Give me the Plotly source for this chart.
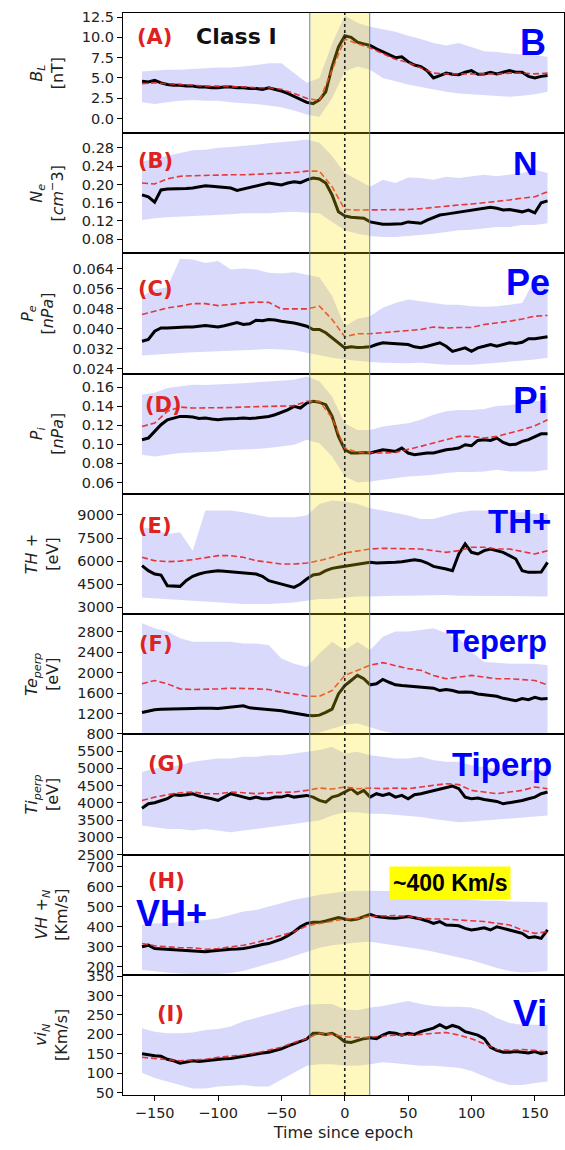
import plotly.graph_objects as go

# ---------------- data ----------------
t_line = list(range(-160, 161, 5))    # black median lines
t_band = list(range(-160, 161, 10))   # red mean lines and shaded bands

# (A) B_L [nT]
black_A = [4.6, 4.5, 4.7, 4.4, 4.2, 4.1, 4.1, 4.0, 4.0, 3.9, 3.9, 3.8, 3.8,
           3.9, 3.9, 3.8, 3.8, 3.7, 3.7, 3.6, 3.8, 3.6, 3.4, 3.1, 2.7, 2.3,
           2.0, 1.85, 2.3, 3.3, 6.4, 8.8, 10.2, 10.0, 9.4, 9.2, 9.0, 8.6, 8.2,
           7.8, 7.5, 7.6, 7.0, 6.6, 6.4, 5.9, 5.0, 5.3, 5.6, 5.45, 5.4, 5.7,
           5.9, 5.45, 5.5, 5.7, 5.5, 5.7, 5.9, 5.7, 5.7, 5.2, 5.0, 5.2, 5.3]
red_A = [4.3, 4.4, 4.3, 4.2, 4.1, 4.0, 4.0, 3.9, 3.9, 3.8, 3.8, 3.6, 3.1, 2.5, 2.2, 6.0, 9.8,
         9.2, 8.7, 8.0, 7.3, 6.9, 6.2, 5.6, 5.5, 5.5, 5.5, 5.5, 5.5, 5.6, 5.6, 5.5, 5.6]
up_A = [5.8, 5.9, 6.0, 6.0, 6.1, 6.2, 6.3, 6.3, 6.4, 6.6, 6.8, 6.8, 5.6, 4.4, 5.0, 9.2, 12.7,
        11.8, 11.3, 11.0, 10.7, 10.2, 9.8, 9.3, 9.0, 9.3, 8.8, 8.3, 8.2, 8.0, 7.9, 7.8, 7.6]
lo_A = [2.0, 1.8, 2.0, 2.2, 2.3, 2.2, 2.2, 2.0, 1.9, 1.8, 1.6, 1.4, 1.0, 0.5, 0.2, 2.5, 5.8,
        6.4, 6.0, 5.0, 4.6, 4.2, 3.9, 3.6, 3.3, 3.1, 3.0, 2.9, 2.8, 2.7, 2.8, 3.0, 3.3]

# (B) N_e [cm^-3]
black_B = [0.177, 0.173, 0.161, 0.188, 0.190, 0.190, 0.190, 0.191, 0.192, 0.194, 0.197, 0.196, 0.195,
           0.194, 0.192, 0.187, 0.190, 0.193, 0.197, 0.200, 0.203, 0.201, 0.199, 0.203, 0.206, 0.204,
           0.210, 0.214, 0.212, 0.203, 0.177, 0.140, 0.131, 0.128, 0.127, 0.126, 0.118, 0.115, 0.113,
           0.113, 0.113, 0.114, 0.118, 0.116, 0.115, 0.122, 0.128, 0.133, 0.135, 0.137, 0.140, 0.142,
           0.144, 0.145, 0.148, 0.150, 0.148, 0.144, 0.145, 0.142, 0.140, 0.144, 0.138, 0.160, 0.164]
red_B = [0.203, 0.201, 0.212, 0.218, 0.219, 0.220, 0.220, 0.221, 0.221, 0.222, 0.223, 0.224, 0.226,
         0.229, 0.229, 0.195, 0.145, 0.144, 0.144, 0.144, 0.144, 0.145, 0.147, 0.150, 0.153, 0.155,
         0.157, 0.160, 0.162, 0.166, 0.170, 0.173, 0.184]
up_B = [0.250, 0.256, 0.262, 0.269, 0.275, 0.276, 0.280, 0.282, 0.284, 0.287, 0.290, 0.292, 0.295,
        0.298, 0.291, 0.262, 0.225, 0.210, 0.195, 0.210, 0.203, 0.215, 0.214, 0.210, 0.217, 0.214,
        0.217, 0.221, 0.218, 0.221, 0.225, 0.232, 0.225]
lo_B = [0.122, 0.126, 0.128, 0.130, 0.131, 0.132, 0.133, 0.135, 0.137, 0.137, 0.137, 0.139, 0.140,
        0.138, 0.137, 0.118, 0.100, 0.092, 0.087, 0.085, 0.085, 0.087, 0.089, 0.092, 0.096, 0.100,
        0.101, 0.104, 0.107, 0.107, 0.111, 0.111, 0.115]

# (C) P_e [nPa]
black_C = [0.0350, 0.0357, 0.0390, 0.0403, 0.0403, 0.0405, 0.0407, 0.0407, 0.0407, 0.0410, 0.0413, 0.0410, 0.0407,
           0.0412, 0.0417, 0.0425, 0.0417, 0.0420, 0.0434, 0.0432, 0.0437, 0.0435, 0.0430, 0.0427, 0.0423, 0.0417,
           0.0410, 0.0397, 0.0397, 0.0384, 0.0364, 0.0344, 0.0324, 0.0328, 0.0325, 0.0326, 0.0328, 0.0337, 0.0344,
           0.0342, 0.0341, 0.0339, 0.0337, 0.0328, 0.0324, 0.0330, 0.0337, 0.0344, 0.0330, 0.0310, 0.0317, 0.0324,
           0.0310, 0.0324, 0.0330, 0.0337, 0.0330, 0.0337, 0.0344, 0.0341, 0.0346, 0.0360, 0.0360, 0.0364, 0.0368]
red_C = [0.0457, 0.0470, 0.0483, 0.0490, 0.0500, 0.0500, 0.0492, 0.0497, 0.0503, 0.0506, 0.0505, 0.0479, 0.0478,
         0.0479, 0.0490, 0.0437, 0.0368, 0.0380, 0.0380, 0.0384, 0.0386, 0.0390, 0.0397, 0.0407, 0.0403, 0.0405,
         0.0405, 0.0417, 0.0423, 0.0430, 0.0439, 0.0450, 0.0453]
up_C = [0.0530, 0.0556, 0.0565, 0.0679, 0.0676, 0.0662, 0.0670, 0.0636, 0.0640, 0.0636, 0.0623, 0.0620, 0.0625,
        0.0616, 0.0605, 0.0530, 0.0410, 0.0440, 0.0450, 0.0484, 0.0503, 0.0516, 0.0510, 0.0505, 0.0496, 0.0496,
        0.0490, 0.0488, 0.0490, 0.0496, 0.0503, 0.0596, 0.0580]
lo_C = [0.0293, 0.0297, 0.0300, 0.0303, 0.0306, 0.0308, 0.0310, 0.0313, 0.0317, 0.0318, 0.0319, 0.0317, 0.0314,
        0.0304, 0.0293, 0.0284, 0.0277, 0.0271, 0.0267, 0.0264, 0.0262, 0.0262, 0.0264, 0.0260, 0.0257, 0.0257,
        0.0257, 0.0260, 0.0264, 0.0267, 0.0271, 0.0277, 0.0284]

# (D) P_i [nPa]
black_D = [0.1048, 0.1065, 0.1135, 0.1205, 0.1257, 0.1275, 0.1292, 0.1290, 0.1285, 0.1270, 0.1275, 0.1265, 0.1257,
           0.1265, 0.1265, 0.1270, 0.1275, 0.1270, 0.1275, 0.1280, 0.1292, 0.1310, 0.1334, 0.1360, 0.1397, 0.1380,
           0.1432, 0.1450, 0.1439, 0.1415, 0.1292, 0.1083, 0.0943, 0.0908, 0.0908, 0.0915, 0.0908, 0.0925, 0.0943,
           0.0935, 0.0925, 0.0960, 0.0908, 0.0890, 0.0900, 0.0908, 0.0908, 0.0925, 0.0943, 0.0950, 0.0960, 0.0995,
           0.0985, 0.1040, 0.1048, 0.1040, 0.1065, 0.1020, 0.0995, 0.1000, 0.1030, 0.1048, 0.1083, 0.1110, 0.1110]
red_D = [0.1187, 0.1222, 0.1345, 0.1390, 0.1380, 0.1380, 0.1380, 0.1385, 0.1390, 0.1395, 0.1397, 0.1400, 0.1404,
         0.1450, 0.1450, 0.1275, 0.0960, 0.0915, 0.0908, 0.0908, 0.0915, 0.0943, 0.0978, 0.1013, 0.1048, 0.1083,
         0.1083, 0.1065, 0.1083, 0.1117, 0.1152, 0.1194, 0.1257]
up_D = [0.152, 0.154, 0.159, 0.161, 0.1625, 0.162, 0.1625, 0.1635, 0.164, 0.165, 0.166, 0.167, 0.1677,
        0.171, 0.166, 0.150, 0.122, 0.115, 0.115, 0.1187, 0.120, 0.122, 0.1257, 0.131, 0.1345, 0.136,
        0.136, 0.137, 0.140, 0.141, 0.1432, 0.145, 0.1467]
lo_D = [0.089, 0.0873, 0.089, 0.0908, 0.0915, 0.092, 0.0925, 0.094, 0.0943, 0.095, 0.096, 0.098, 0.0995,
        0.1048, 0.1010, 0.0873, 0.0663, 0.0600, 0.0610, 0.0628, 0.0645, 0.0663, 0.067, 0.068, 0.0698, 0.071,
        0.071, 0.0715, 0.0733, 0.0715, 0.0715, 0.0715, 0.0733]

# (E) TH+ [eV]
black_E = [5708, 5383, 5166, 5100, 4408, 4365, 4365, 4750, 5015, 5166, 5274, 5330, 5383,
           5350, 5318, 5300, 5274, 5200, 5166, 5015, 4733, 4625, 4517, 4408, 4300, 4517,
           4841, 5100, 5166, 5383, 5534, 5599, 5664, 5708, 5751, 5816, 5924, 5881, 5881,
           5900, 5924, 5967, 6032, 6097, 6032, 5881, 5664, 5599, 5491, 5383, 6466, 7116,
           6574, 6466, 6682, 6790, 6682, 6574, 6357, 6140, 5383, 5274, 5274, 5300, 5924]
red_E = [6249, 6032, 5967, 6000, 6097, 6249, 6357, 6357, 6249, 6032, 5924, 5816, 5816,
         5881, 6032, 6249, 6531, 6682, 6790, 6834, 6834, 6834, 6790, 6682, 6574, 6682,
         6900, 6899, 6790, 6790, 6617, 6466, 6682]
up_E = [8199, 8090, 7765, 7873, 6682, 9281, 9281, 9281, 9173, 9000, 8848, 8848, 8848,
        8957, 9715, 9931, 9866, 9715, 9433, 9281, 9130, 8957, 8740, 8740, 8957, 9173,
        9281, 9281, 9281, 9173, 9173, 9065, 9065]
lo_E = [3650, 3585, 3541, 3487, 3433, 3380, 3325, 3270, 3217, 3217, 3217, 3270, 3325,
        3433, 3541, 3541, 3650, 3715, 3715, 3758, 3758, 3758, 3780, 3801, 3801, 3758,
        3758, 3758, 3740, 3715, 3715, 3715, 3715]

# (F) Te_perp [eV]
black_F = [1220, 1250, 1272, 1280, 1286, 1286, 1286, 1290, 1299, 1300, 1305, 1300, 1299,
           1310, 1319, 1340, 1351, 1310, 1299, 1290, 1286, 1270, 1253, 1230, 1207, 1185,
           1167, 1154, 1167, 1220, 1286, 1582, 1746, 1845, 1944, 1878, 1760, 1779, 1865,
           1810, 1760, 1745, 1733, 1725, 1714, 1700, 1694, 1648, 1667, 1650, 1615, 1620,
           1615, 1582, 1562, 1550, 1536, 1496, 1470, 1450, 1490, 1470, 1516, 1483, 1490]
red_F = [1779, 1845, 1779, 1681, 1667, 1667, 1681, 1694, 1694, 1681, 1667, 1615, 1582,
         1536, 1536, 1648, 1944, 2043, 2142, 2194, 2142, 2076, 2043, 1944, 1878, 1911,
         1944, 1911, 1878, 1878, 1865, 1845, 1760]
up_F = [2965, 2866, 2800, 2668, 2602, 2602, 2615, 2602, 2569, 2569, 2537, 2273, 2174,
        2109, 2372, 2602, 2438, 2602, 2438, 2701, 2800, 2800, 2833, 2866, 2767, 2668,
        2405, 2207, 2190, 2174, 2174, 2174, 2141]
lo_F = [790, 785, 780, 780, 780, 780, 780, 780, 780, 780, 780, 785, 790,
        800, 830, 900, 980, 1010, 930, 850, 810, 790, 785, 780, 780, 780,
        780, 780, 780, 780, 780, 780, 780]

# (G) Ti_perp [eV]
black_G = [3846, 3973, 4002, 4070, 4119, 4235, 4216, 4235, 4265, 4197, 4167, 4119, 4070,
           4167, 4265, 4216, 4167, 4119, 4167, 4119, 4119, 4167, 4167, 4216, 4167, 4197,
           4216, 4167, 4070, 4021, 4167, 4216, 4313, 4411, 4265, 4362, 4167, 4265, 4216,
           4265, 4167, 4216, 4119, 4235, 4265, 4313, 4362, 4411, 4459, 4488, 4411, 4167,
           4119, 4140, 4099, 4070, 4041, 3973, 4002, 4021, 4070, 4119, 4167, 4265, 4313]
red_G = [4070, 4167, 4235, 4294, 4313, 4265, 4265, 4313, 4294, 4265, 4294, 4313, 4313,
         4362, 4430, 4400, 4459, 4411, 4430, 4411, 4430, 4411, 4459, 4488, 4556, 4530,
         4362, 4313, 4265, 4313, 4362, 4459, 4411]
up_G = [4897, 4994, 5043, 5092, 5189, 5238, 5286, 5286, 5335, 5335, 5384, 5384, 5432,
        5481, 5530, 5627, 5432, 5481, 5384, 5335, 5286, 5286, 5335, 5238, 5189, 5189,
        5092, 5043, 4994, 4994, 4945, 4945, 4945]
lo_G = [3340, 3292, 3243, 3243, 3195, 3243, 3195, 3146, 3195, 3243, 3292, 3340, 3389,
        3437, 3486, 3632, 3730, 3730, 3681, 3681, 3652, 3613, 3590, 3535, 3486, 3437,
        3457, 3486, 3515, 3535, 3584, 3613, 3632]

# (H) VH+_N [Km/s]
black_H = [301, 309, 292, 290, 289, 287, 284, 282, 279, 277, 276, 280, 284,
           286, 289, 290, 292, 298, 306, 312, 317, 328, 339, 356, 376, 401,
           418, 423, 423, 430, 440, 447, 440, 435, 440, 452, 463, 452, 447,
           445, 443, 448, 452, 446, 440, 430, 418, 427, 410, 408, 406, 393,
           385, 390, 396, 385, 401, 393, 385, 376, 368, 346, 351, 343, 385]
red_H = [317, 306, 301, 296, 296, 289, 292, 301, 309, 322, 339, 356, 376,
         406, 418, 427, 440, 443, 452, 455, 457, 452, 443, 440, 440, 435,
         430, 427, 418, 410, 385, 368, 376]
up_H = [410, 418, 418, 423, 427, 435, 443, 460, 477, 485, 502, 519, 536,
        547, 561, 569, 578, 581, 581, 581, 578, 578, 578, 569, 561, 547,
        536, 531, 531, 527, 527, 527, 524]
lo_H = [185, 178, 172, 168, 165, 163, 165, 170, 180, 200, 217, 234, 255,
        276, 296, 309, 317, 322, 326, 317, 309, 301, 289, 276, 262, 250,
        234, 215, 195, 180, 172, 175, 180]

# (I) vi_N [Km/s]
black_I = [150, 147, 145, 144, 136, 132, 126, 129, 132, 130, 132, 134, 136,
           137, 138, 141, 144, 147, 150, 152, 154, 158, 163, 170, 176, 181,
           188, 203, 203, 200, 203, 194, 181, 179, 185, 189, 191, 189, 198,
           205, 203, 198, 203, 200, 207, 211, 216, 225, 216, 223, 218, 207,
           203, 198, 189, 167, 159, 154, 154, 156, 154, 152, 156, 150, 154]
red_I = [141, 138, 135, 132, 134, 136, 141, 144, 147, 152, 159, 167, 179,
         189, 203, 200, 194, 192, 192, 196, 198, 198, 200, 203, 205, 198,
         189, 176, 161, 159, 161, 159, 154]
up_I = [216, 207, 203, 203, 205, 211, 214, 220, 234, 242, 251, 260, 269,
        276, 278, 278, 264, 262, 269, 273, 279, 286, 278, 273, 271, 271,
        269, 260, 242, 229, 225, 225, 225]
lo_I = [101, 88, 79, 70, 61, 61, 66, 68, 70, 66, 66, 84, 101,
        119, 123, 123, 119, 119, 123, 128, 126, 123, 119, 119, 117, 114,
        106, 92, 79, 70, 70, 75, 79]

x_ticks = [-150, -100, -50, 0, 50, 100, 150]
span_start, span_end = -27.6, 19.7

# ---------------- figure ----------------
W, H = 565, 1150
L, R, T, B = 123, 1, 13, 55
PW, PH = W - L - R, H - T - B

BAND = "rgba(105,105,240,0.25)"
RED = "rgba(232,35,35,0.9)"
TICKFONT = dict(family="DejaVu Sans", size=14.5, color="#222222")
TITLEFONT = dict(family="DejaVu Sans", size=16, color="#222222")

panels = [
    (black_A, red_A, up_A, lo_A, [-1.8, 13.0], 0, 2.5, ".1f", "<i>B<sub>L</sub></i><br>[nT]"),
    (black_B, red_B, up_B, lo_B, [0.049, 0.312], 0.08, 0.04, ".2f", "<i>N<sub>e</sub></i><br>[<i>cm</i><sup>−</sup>3]"),
    (black_C, red_C, up_C, lo_C, [0.0221, 0.070], 0.024, 0.008, ".3f", "<i>P<sub>e</sub></i><br>[<i>nPa</i>]"),
    (black_D, red_D, up_D, lo_D, [0.048, 0.174], 0.06, 0.02, ".2f", "<i>P<sub>i</sub></i><br>[<i>nPa</i>]"),
    (black_E, red_E, up_E, lo_E, [2565, 10365], 3000, 1500, "d", "<i>TH</i> +<br>[eV]"),
    (black_F, red_F, up_F, lo_F, [792, 3142], 800, 400, "d", "<i>Te<sub>perp</sub></i><br>[eV]"),
    (black_G, red_G, up_G, lo_G, [2500, 5988], 2500, 500, "d", "<i>Ti<sub>perp</sub></i><br>[eV]"),
    (black_H, red_H, up_H, lo_H, [161, 762], 200, 100, "d", "<i>VH</i> +<sub><i>N</i></sub><br>[Km/s]"),
    (black_I, red_I, up_I, lo_I, [44, 353.4], 50, 50, "d", "<i>vi<sub>N</sub></i><br>[Km/s]"),
]

fig = go.Figure()
n = len(panels)
layout = {}
for i, (blk, red, up, lo, yr, t0, dt, fmt, title) in enumerate(panels):
    assert len(blk) == len(t_line), (i, len(blk))
    assert len(red) == len(t_band) and len(up) == len(t_band) and len(lo) == len(t_band), (i, len(red), len(up), len(lo))
    k = i + 1
    xa = "x" if k == 1 else f"x{k}"
    ya = "y" if k == 1 else f"y{k}"
    common = dict(xaxis=xa, yaxis=ya, showlegend=False, hoverinfo="skip")
    fig.add_trace(go.Scatter(x=t_band, y=lo, mode="lines", line=dict(width=0, color=BAND), **common))
    fig.add_trace(go.Scatter(x=t_band, y=up, mode="lines", line=dict(width=0, color=BAND),
                             fill="tonexty", fillcolor=BAND, **common))
    fig.add_trace(go.Scatter(x=t_line, y=blk, mode="lines", line=dict(color="black", width=3), **common))
    fig.add_trace(go.Scatter(x=t_band, y=red, mode="lines",
                             line=dict(color=RED, width=1.6, dash="6px,3px"), **common))
    top = 1 - i / n
    bot = 1 - (i + 1) / n
    last = (k == n)
    xdict = dict(
        domain=[0, 1], anchor=ya, range=[-175, 173],
        showline=True, mirror=True, linecolor="black", linewidth=1,
        showgrid=False, zeroline=False,
        tickmode="array", tickvals=x_ticks,
        ticks="outside" if last else "", ticklen=5, tickcolor="black",
        showticklabels=last, tickfont=TICKFONT,
    )
    if k > 1:
        xdict["matches"] = "x"
    if last:
        xdict["title"] = dict(text="Time since epoch", font=TITLEFONT, standoff=6)
    layout["xaxis" if k == 1 else f"xaxis{k}"] = xdict
    layout["yaxis" if k == 1 else f"yaxis{k}"] = dict(
        domain=[bot, top], anchor=xa, range=yr,
        showline=True, mirror=True, linecolor="black", linewidth=1,
        showgrid=False, zeroline=False,
        tick0=t0, dtick=dt, tickformat=fmt,
        ticks="outside", ticklen=5, tickcolor="black", tickfont=TICKFONT,
        title=dict(text=title, font=TITLEFONT, standoff=14),
    )

fig.update_layout(**layout)

# highlighted interval and epoch line across all panels
fig.add_shape(type="rect", xref="x", yref="paper", x0=span_start, x1=span_end, y0=0, y1=1,
              fillcolor="rgba(250,228,0,0.25)", line=dict(width=0), layer="above")
for xe in (span_start, span_end):
    fig.add_shape(type="line", xref="x", yref="paper", x0=xe, x1=xe, y0=0, y1=1,
                  line=dict(color="#5a86c0", width=1), layer="above")
fig.add_shape(type="line", xref="x", yref="paper", x0=0, x1=0, y0=0, y1=1,
              line=dict(color="#222222", width=1.6, dash="dot"), layer="above")


def ann(text, cx, cy, size, color, family, bg=None, pad=0):
    fig.add_annotation(x=(cx - L) / PW, y=(H - B - cy) / PH, xref="paper", yref="paper",
                       text=text, showarrow=False, xanchor="center", yanchor="middle",
                       font=dict(size=size, color=color, family=family),
                       bgcolor=bg, borderpad=pad)


PANEL_RED = "#dd2222"
BLUE = "#0000ff"
labels_red = [("(A)", 154, 37), ("(B)", 155, 161), ("(C)", 155, 289), ("(D)", 163, 405),
              ("(E)", 155, 526), ("(F)", 156, 644), ("(G)", 166, 764), ("(H)", 166, 881),
              ("(I)", 170, 1014)]
for txt, cx, cy in labels_red:
    ann(f"<b>{txt}</b>", cx, cy, 21, PANEL_RED, "DejaVu Sans")

ann("<b>Class I</b>", 236, 37, 22, "#111111", "DejaVu Sans")

labels_blue = [("B", 533, 42, 36), ("N", 525, 163, 34), ("Pe", 528, 282, 36), ("Pi", 530, 400, 37),
               ("TH+", 519, 521, 33), ("Teperp", 496, 641, 31), ("Tiperp", 502, 764, 33),
               ("VH+", 171, 913, 36), ("Vi", 530, 1013, 37)]
for txt, cx, cy, sz in labels_blue:
    ann(f"<b>{txt}</b>", cx, cy, sz, BLUE, "Liberation Sans")

ann("<b>~400 Km/s</b>", 450, 883, 23, "#000000", "Liberation Sans", bg="#ffff00", pad=3)

fig.update_layout(
    width=W, height=H,
    margin=dict(l=L, r=R, t=T, b=B, autoexpand=False),
    paper_bgcolor="white", plot_bgcolor="white",
    showlegend=False,
)

fig.write_html("out.html")
